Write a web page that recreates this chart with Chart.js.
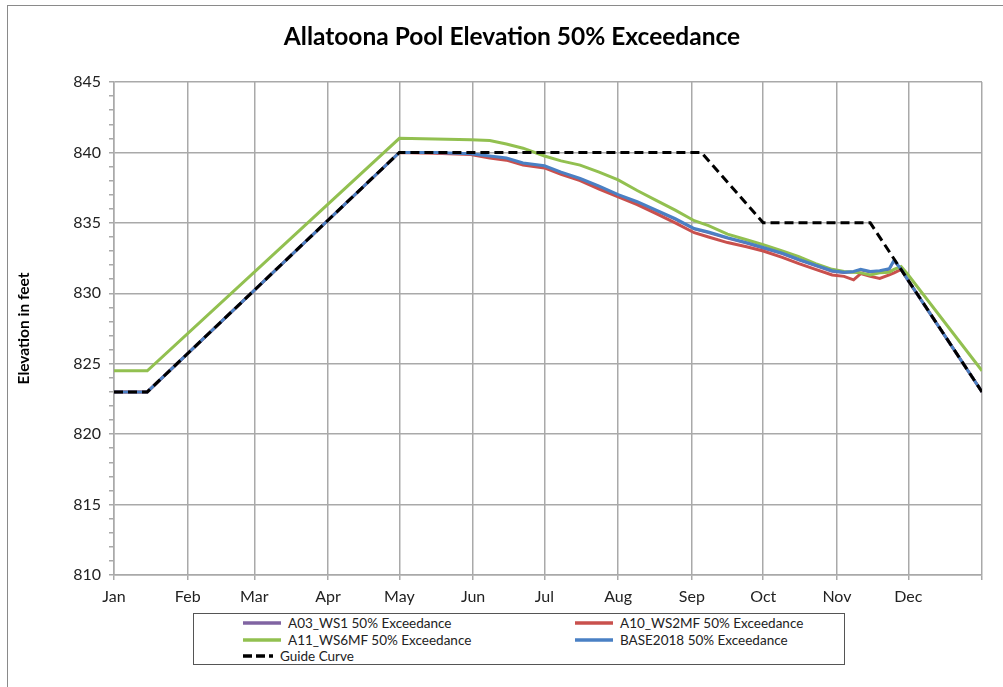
<!DOCTYPE html>
<html>
<head>
<meta charset="utf-8">
<title>Allatoona Pool Elevation 50% Exceedance</title>
<script src="https://cdn.jsdelivr.net/npm/chart.js@4"></script>
<style>
  html, body { margin: 0; padding: 0; background: #fff; }
  body { width: 1003px; height: 687px; position: relative; overflow: hidden; font-family: Lato, "Open Sans", sans-serif; }
  #frame { position: absolute; left: 7px; top: 5px; width: 1010px; height: 700px; border: 1px solid #8a8a8a; box-sizing: border-box; }
  #wrap { position: absolute; left: 0; top: 0; width: 1003px; height: 687px; }
  #title { position: absolute; left: 212px; width: 600px; top: 20px; height: 32px; line-height: 32px; text-align: center; font-size: 24.5px; font-weight: bold; color: #000; }
  #legend { position: absolute; left: 193px; top: 613px; width: 652px; height: 52px; border: 1px solid #555; box-sizing: border-box; background: #fff; }
  .item { position: absolute; height: 16px; display: flex; align-items: center; font-size: 13.5px; color: #222; white-space: nowrap; }
  .item svg { margin-right: 7px; }
</style>
</head>
<body>
<div id="frame"></div>
<div id="wrap"><canvas id="chart" width="1003" height="687"></canvas></div>
<div id="title">Allatoona Pool Elevation 50% Exceedance</div>
<div id="legend"></div>
<script>
// x axis = day of year (0 = Jan 1, 365 = Dec 31)
const monthLabels = ['Jan','Feb','Mar','Apr','May','Jun','Jul','Aug','Sep','Oct','Nov','Dec'];
const monthStartDays = [0, 31, 59, 90, 120, 151, 181, 212, 243, 273, 304, 334, 365];

const simDays = [0, 14, 120, 135, 150, 158, 165, 172, 181, 188, 196, 204, 212, 220, 228, 236, 244, 250, 258, 266, 273, 281, 288, 295, 302, 307, 311, 314, 318, 322, 326, 328, 331, 334, 365];

const a03Values = [823.0, 823.0, 840.0, 839.98, 839.88, 839.72, 839.55, 839.2, 839.0, 838.55, 838.1, 837.55, 836.95, 836.45, 835.85, 835.25, 834.55, 834.3, 833.9, 833.55, 833.2, 832.8, 832.35, 831.95, 831.55, 831.45, 831.5, 831.65, 831.5, 831.55, 831.7, 832.3, 831.7, 830.9, 823.0];
const a10Values = [823.0, 823.0, 840.0, 839.95, 839.85, 839.6, 839.45, 839.1, 838.9, 838.45, 838.0, 837.4, 836.85, 836.3, 835.65, 835.0, 834.3, 834.0, 833.6, 833.3, 833.0, 832.55, 832.1, 831.7, 831.3, 831.2, 830.95, 831.4, 831.2, 831.05, 831.3, 831.45, 831.7, 830.9, 823.0];
const a11Values = [824.5, 824.5, 841.0, 840.95, 840.9, 840.85, 840.6, 840.3, 839.75, 839.4, 839.1, 838.6, 838.05, 837.3, 836.6, 835.9, 835.15, 834.8, 834.2, 833.8, 833.45, 833.0, 832.6, 832.1, 831.7, 831.55, 831.5, 831.45, 831.3, 831.45, 831.5, 831.7, 831.9, 831.3, 824.5];
const baseValues = [823.0, 823.0, 840.0, 840.0, 839.9, 839.75, 839.6, 839.25, 839.05, 838.6, 838.15, 837.6, 837.0, 836.5, 835.9, 835.3, 834.6, 834.35, 833.95, 833.6, 833.25, 832.85, 832.4, 832.0, 831.6, 831.5, 831.55, 831.7, 831.55, 831.6, 831.75, 832.35, 831.7, 830.9, 823.0];

const guideDays = [0, 14, 120, 247, 273, 318, 365];
const guideValues = [823, 823, 840, 840, 835, 835, 823];

const seriesNames = ['A03_WS1 50% Exceedance', 'A10_WS2MF 50% Exceedance', 'A11_WS6MF 50% Exceedance', 'BASE2018 50% Exceedance', 'Guide Curve'];
const seriesColors = ['#8064A2', '#C9504D', '#92C050', '#4A80C4', '#000000'];

const toPoints = (days, vals) => days.map((d, i) => ({ x: d, y: vals[i] }));
const GRID = '#a9a9a9';
const FONT = 'Lato, "Open Sans", sans-serif';

const datasets = [
  { label: seriesNames[0], data: toPoints(simDays, a03Values), borderColor: seriesColors[0], borderWidth: 2.5, order: 5 },
  { label: seriesNames[1], data: toPoints(simDays, a10Values), borderColor: seriesColors[1], order: 4 },
  { label: seriesNames[2], data: toPoints(simDays, a11Values), borderColor: seriesColors[2], order: 3 },
  { label: seriesNames[3], data: toPoints(simDays, baseValues), borderColor: seriesColors[3], order: 2 },
  { label: seriesNames[4], data: toPoints(guideDays, guideValues), borderColor: seriesColors[4], borderDash: [9, 5], order: 1 }
].map(ds => Object.assign({ borderWidth: 3, pointRadius: 0, tension: 0, fill: false }, ds));

const chart = new Chart(document.getElementById('chart'), {
  type: 'line',
  data: { datasets },
  options: {
    responsive: false,
    animation: false,
    layout: { padding: { left: 12, right: 21, top: 82, bottom: 0 } },
    plugins: {
      legend: { display: false },
      tooltip: { enabled: false },
      title: { display: false }
    },
    scales: {
      x: {
        type: 'linear',
        min: 0,
        max: 365,
        afterBuildTicks: s => { s.ticks = monthStartDays.map(v => ({ value: v })); },
        afterFit: s => { s.height = 112; },
        ticks: {
          autoSkip: false,
          maxRotation: 0,
          padding: 7,
          color: '#222',
          font: { family: FONT, size: 16 },
          callback: (v, i) => monthLabels[i] || ''
        },
        grid: { color: GRID, lineWidth: 1.5, tickLength: 5, tickColor: GRID },
        border: { color: GRID, width: 1.5 }
      },
      y: {
        min: 810,
        max: 845,
        afterFit: s => { s.width = 102; },
        ticks: {
          stepSize: 1,
          autoSkip: false,
          padding: 8,
          color: '#222',
          font: { family: FONT, size: 16 },
          callback: v => (v % 5 === 0 ? v : '')
        },
        grid: {
          color: c => (c.tick && c.tick.value % 5 === 0 ? GRID : 'rgba(0,0,0,0)'),
          lineWidth: 1.5,
          tickLength: 5,
          tickColor: GRID
        },
        border: { color: GRID, width: 1.5 },
        title: {
          display: true,
          text: 'Elevation in feet',
          color: '#000',
          font: { family: FONT, size: 15.5, weight: 'bold' },
          padding: { top: 3, bottom: 0 }
        }
      }
    }
  }
});

// legend built from the chart's datasets, two columns like the original
const legendPos = [[49, 0], [381, 0], [49, 1], [381, 1], [49, 2]];
const legend = document.getElementById('legend');
chart.data.datasets.forEach((ds, i) => {
  const item = document.createElement('div');
  item.className = 'item';
  item.style.left = legendPos[i][0] + 'px';
  item.style.top = (1 + legendPos[i][1] * 16.5) + 'px';
  const dash = ds.borderDash ? 'stroke-dasharray="9 4"' : '';
  const w = ds.borderDash ? 30 : 38;
  item.innerHTML = `<svg width="${w}" height="6"><line x1="0" y1="3" x2="${w}" y2="3" stroke="${ds.borderColor}" stroke-width="3.5" ${dash}/></svg><span>${ds.label}</span>`;
  legend.appendChild(item);
});
</script>
</body>
</html>
